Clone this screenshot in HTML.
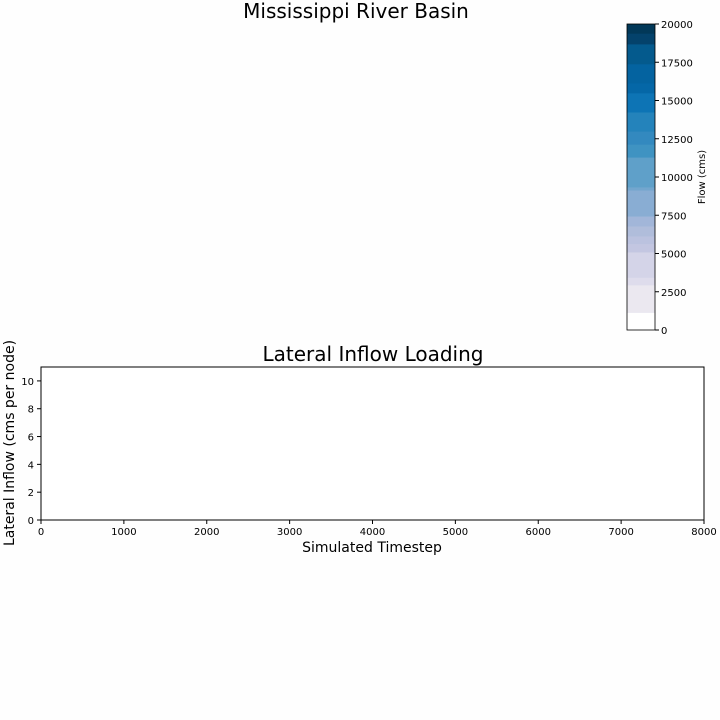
<!DOCTYPE html>
<html><head><meta charset="utf-8"><style>
body{margin:0;background:#fefefe;}
svg{display:block;font-family:"DejaVu Sans","Liberation Sans",sans-serif;}
</style></head><body>
<svg width="720" height="720" viewBox="0 0 720 720">
<rect width="720" height="720" fill="#fefefe"/>
<text x="356" y="18" font-size="20" text-anchor="middle">Mississippi River Basin</text>
<g id="cbar"></g>
<text transform="translate(705,177) rotate(-90)" font-size="10" text-anchor="middle">Flow (cms)</text>
<text x="373" y="361" font-size="20" text-anchor="middle">Lateral Inflow Loading</text>
<rect x="41" y="367" width="663" height="153" fill="#fff" stroke="#000" stroke-width="1"/>
<g id="xt"></g>
<g id="yt"></g>
<text x="372" y="552" font-size="14" text-anchor="middle">Simulated Timestep</text>
<text transform="translate(14,443) rotate(-90)" font-size="14" text-anchor="middle">Lateral Inflow (cms per node)</text>
</svg>
<script>
const cbBounds=[0,1150,2950,3450,5100,5650,6150,6800,7450,9150,9350,11300,12150,13000,14250,15500,16150,17400,18700,19400,20000];
const cbColors=["#ffffff","#ebe8f0","#dedcec","#d4d4e8","#c3c6e1","#bbc2df","#b0bddb","#a2b6d9","#89add3","#73a6ce","#5fa0c9","#3f93c2","#3389bf","#2483bb","#0d74b5","#0567a7","#0463a0","#045a8d","#04426b","#023858"];
const cbTicks=[0,2500,5000,7500,10000,12500,15000,17500,20000];
const xTicks=[0,1000,2000,3000,4000,5000,6000,7000,8000];
const yTicks=[0,2,4,6,8,10];
const NS="http://www.w3.org/2000/svg";
function mk(t,a,p){const e=document.createElementNS(NS,t);for(const k in a)e.setAttribute(k,a[k]);p.appendChild(e);return e;}
const cy=v=>330-v/20000*306;
const xs=v=>41+v/8000*663;
const ys=v=>520-v/11*153;
const cb=document.getElementById('cbar');
for(let i=0;i<cbColors.length;i++){
 const r=mk('rect',{x:627,y:cy(cbBounds[i+1]),width:28,height:cy(cbBounds[i])-cy(cbBounds[i+1])+0.5,fill:cbColors[i]},cb);
 
 
}
mk('rect',{x:627,y:24,width:28,height:306,fill:'none',stroke:'#000','stroke-width':0.8},cb);
cbTicks.forEach(v=>{const y=cy(v);mk('line',{x1:655,x2:659,y1:y,y2:y,stroke:'#000'},cb);
 const t=mk('text',{x:661,y:y+4,'font-size':10},cb);t.textContent=v;
 
 });
const xg=document.getElementById('xt');
xTicks.forEach(v=>{const x=xs(v);mk('line',{x1:x,x2:x,y1:520,y2:524,stroke:'#000'},xg);
 const t=mk('text',{x:x,y:535,'font-size':10,'text-anchor':'middle'},xg);t.textContent=v;
 
 });
const yg=document.getElementById('yt');
yTicks.forEach(v=>{const y=ys(v);mk('line',{x1:37,x2:41,y1:y,y2:y,stroke:'#000'},yg);
 const t=mk('text',{x:34,y:y+4,'font-size':10,'text-anchor':'end'},yg);t.textContent=v;
 
 });
</script>
</body></html>
